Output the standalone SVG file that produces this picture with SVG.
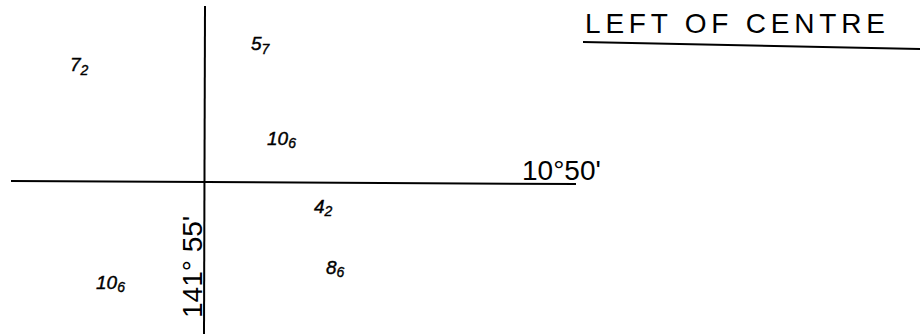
<svg xmlns="http://www.w3.org/2000/svg" width="921" height="334" viewBox="0 0 921 334">
<style>
.ln{stroke:#000;stroke-width:2;fill:none}
.big{font-family:"Liberation Sans",Arial,sans-serif;font-size:28px;fill:#000}
.v{font-family:"Liberation Sans",Arial,sans-serif;font-style:italic;font-size:19px;fill:#000;stroke:#000;stroke-width:0.4}
.s{font-size:14px}
</style>
<rect width="921" height="334" fill="#fff"/>
<g id="connectors">
<line class="ln" x1="205" y1="6" x2="204" y2="334"/>
<line class="ln" x1="11" y1="181" x2="576" y2="184"/>
<line class="ln" x1="583" y1="42" x2="920" y2="49"/>
</g>
<g id="title"><text class="big" x="585" y="33" textLength="300" lengthAdjust="spacing">LEFT OF CENTRE</text></g>
<g id="lat"><text class="big" x="522" y="180">10°50'</text></g>
<g id="lon"><text class="big" transform="translate(202,318) rotate(-90)" x="0" y="0">141° 55'</text></g>
<g id="v72"><text class="v" x="70" y="71">7<tspan class="s" dy="4">2</tspan></text></g>
<g id="v57"><text class="v" x="251" y="50">5<tspan class="s" dy="4">7</tspan></text></g>
<g id="v106a"><text class="v" x="267" y="145">10<tspan class="s" dy="3">6</tspan></text></g>
<g id="v42"><text class="v" x="314" y="213">4<tspan class="s" dy="3">2</tspan></text></g>
<g id="v86"><text class="v" x="326" y="274">8<tspan class="s" dy="3">6</tspan></text></g>
<g id="v106b"><text class="v" x="96" y="289">10<tspan class="s" dy="3">6</tspan></text></g>
</svg>
